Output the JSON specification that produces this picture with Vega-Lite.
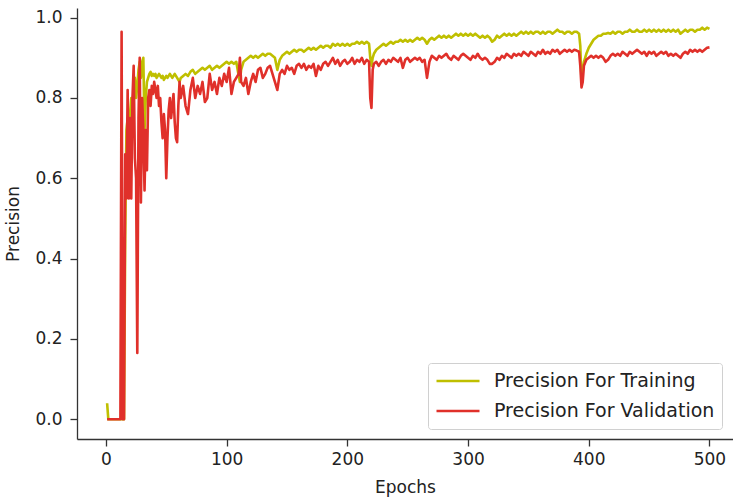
{
  "$schema": "https://vega.github.io/schema/vega-lite/v6.json",
  "autosize": {"type": "none"},
  "padding": {"left": 77, "top": 8, "right": 0, "bottom": 62},
  "width": 656,
  "height": 431,
  "background": "white",
  "config": {
    "view": {"stroke": null},
    "font": "DejaVu Sans",
    "axis": {"grid": false, "domainColor": "#333", "tickColor": "#333", "labelColor": "#222", "titleColor": "#222", "labelFontSize": 17, "titleFontSize": 17, "titleFontWeight": "normal", "tickSize": 7, "domainWidth": 1.3, "tickWidth": 1.3}
  },
  "datasets": {
    "prec": [
      {"e":1,"t":0.04,"v":0},{"e":2,"t":0,"v":0},{"e":3,"t":0,"v":0},{"e":4,"t":0,"v":0},{"e":5,"t":0,"v":0},{"e":6,"t":0,"v":0},{"e":7,"t":0,"v":0},{"e":8,"t":0,"v":0},{"e":9,"t":0,"v":0},{"e":10,"t":0,"v":0},
      {"e":11,"t":0,"v":0},{"e":12,"t":0,"v":0},{"e":13,"t":0,"v":0.965},{"e":14,"t":0,"v":0},{"e":15,"t":0,"v":0},{"e":16,"t":0.45,"v":0.66},{"e":17,"t":0.72,"v":0.55},{"e":18,"t":0.75,"v":0.82},{"e":19,"t":0.74,"v":0.55},{"e":20,"t":0.76,"v":0.75},
      {"e":21,"t":0.8,"v":0.55},{"e":22,"t":0.78,"v":0.8},{"e":23,"t":0.82,"v":0.88},{"e":24,"t":0.85,"v":0.65},{"e":25,"t":0.8,"v":0.6},{"e":26,"t":0.83,"v":0.165},{"e":27,"t":0.87,"v":0.75},{"e":28,"t":0.89,"v":0.9},{"e":29,"t":0.85,"v":0.54},{"e":30,"t":0.89,"v":0.8},
      {"e":31,"t":0.9,"v":0.72},{"e":32,"t":0.72,"v":0.57},{"e":33,"t":0.8,"v":0.72},{"e":34,"t":0.84,"v":0.62},{"e":35,"t":0.85,"v":0.8},{"e":36,"t":0.86,"v":0.82},{"e":37,"t":0.865,"v":0.78},{"e":38,"t":0.855,"v":0.83},{"e":39,"t":0.86,"v":0.81},{"e":40,"t":0.855,"v":0.84},
      {"e":41,"t":0.86,"v":0.82},{"e":42,"t":0.85,"v":0.8},{"e":43,"t":0.855,"v":0.83},{"e":44,"t":0.86,"v":0.78},{"e":45,"t":0.855,"v":0.8},{"e":46,"t":0.85,"v":0.74},{"e":47,"t":0.855,"v":0.7},{"e":48,"t":0.845,"v":0.76},{"e":49,"t":0.85,"v":0.72},{"e":50,"t":0.855,"v":0.6},
      {"e":51,"t":0.85,"v":0.7},{"e":52,"t":0.855,"v":0.77},{"e":53,"t":0.86,"v":0.8},{"e":54,"t":0.855,"v":0.75},{"e":55,"t":0.85,"v":0.78},{"e":56,"t":0.855,"v":0.81},{"e":57,"t":0.86,"v":0.74},{"e":58,"t":0.855,"v":0.7},{"e":59,"t":0.85,"v":0.69},{"e":60,"t":0.845,"v":0.78},
      {"e":61,"t":0.84,"v":0.84},{"e":62,"t":0.85,"v":0.8},{"e":64,"t":0.855,"v":0.83},{"e":66,"t":0.86,"v":0.78},{"e":68,"t":0.855,"v":0.76},{"e":70,"t":0.865,"v":0.82},{"e":72,"t":0.87,"v":0.85},{"e":74,"t":0.86,"v":0.8},{"e":76,"t":0.865,"v":0.83},{"e":78,"t":0.87,"v":0.81},
      {"e":80,"t":0.875,"v":0.84},{"e":82,"t":0.87,"v":0.79},{"e":84,"t":0.875,"v":0.8},{"e":86,"t":0.88,"v":0.86},{"e":88,"t":0.87,"v":0.82},{"e":90,"t":0.875,"v":0.84},{"e":92,"t":0.88,"v":0.81},{"e":94,"t":0.875,"v":0.85},{"e":96,"t":0.88,"v":0.83},{"e":98,"t":0.885,"v":0.86},
      {"e":100,"t":0.89,"v":0.84},{"e":102,"t":0.885,"v":0.875},{"e":104,"t":0.89,"v":0.81},{"e":106,"t":0.885,"v":0.84},{"e":108,"t":0.89,"v":0.85},{"e":110,"t":0.855,"v":0.86},{"e":111,"t":0.84,"v":0.9},{"e":112,"t":0.87,"v":0.84},{"e":114,"t":0.89,"v":0.83},{"e":116,"t":0.895,"v":0.85},
      {"e":118,"t":0.9,"v":0.81},{"e":120,"t":0.905,"v":0.84},{"e":122,"t":0.9,"v":0.86},{"e":124,"t":0.905,"v":0.84},{"e":126,"t":0.9,"v":0.87},{"e":128,"t":0.905,"v":0.875},{"e":130,"t":0.91,"v":0.85},{"e":132,"t":0.905,"v":0.86},{"e":134,"t":0.91,"v":0.875},{"e":136,"t":0.91,"v":0.88},
      {"e":138,"t":0.905,"v":0.86},{"e":140,"t":0.9,"v":0.84},{"e":142,"t":0.87,"v":0.82},{"e":144,"t":0.895,"v":0.86},{"e":146,"t":0.905,"v":0.87},{"e":148,"t":0.91,"v":0.86},{"e":150,"t":0.915,"v":0.88},{"e":152,"t":0.91,"v":0.87},{"e":154,"t":0.915,"v":0.875},{"e":156,"t":0.92,"v":0.86},
      {"e":158,"t":0.915,"v":0.88},{"e":160,"t":0.92,"v":0.885},{"e":162,"t":0.92,"v":0.875},{"e":164,"t":0.915,"v":0.885},{"e":166,"t":0.92,"v":0.87},{"e":168,"t":0.925,"v":0.88},{"e":170,"t":0.92,"v":0.875},{"e":172,"t":0.925,"v":0.885},{"e":174,"t":0.92,"v":0.855},{"e":176,"t":0.925,"v":0.88},
      {"e":178,"t":0.93,"v":0.87},{"e":180,"t":0.925,"v":0.885},{"e":182,"t":0.93,"v":0.89},{"e":184,"t":0.93,"v":0.88},{"e":186,"t":0.925,"v":0.89},{"e":188,"t":0.935,"v":0.9},{"e":190,"t":0.93,"v":0.885},{"e":192,"t":0.935,"v":0.895},{"e":194,"t":0.93,"v":0.88},{"e":196,"t":0.935,"v":0.89},
      {"e":198,"t":0.93,"v":0.895},{"e":200,"t":0.935,"v":0.885},{"e":202,"t":0.93,"v":0.89},{"e":204,"t":0.935,"v":0.9},{"e":206,"t":0.935,"v":0.885},{"e":208,"t":0.94,"v":0.895},{"e":210,"t":0.935,"v":0.89},{"e":212,"t":0.94,"v":0.9},{"e":214,"t":0.935,"v":0.885},{"e":216,"t":0.94,"v":0.895},
      {"e":218,"t":0.935,"v":0.89},{"e":219,"t":0.9,"v":0.8},{"e":220,"t":0.88,"v":0.775},{"e":221,"t":0.9,"v":0.87},{"e":222,"t":0.91,"v":0.885},{"e":224,"t":0.92,"v":0.89},{"e":226,"t":0.925,"v":0.88},{"e":228,"t":0.93,"v":0.89},{"e":230,"t":0.935,"v":0.895},{"e":232,"t":0.93,"v":0.885},
      {"e":234,"t":0.935,"v":0.895},{"e":236,"t":0.94,"v":0.89},{"e":238,"t":0.935,"v":0.9},{"e":240,"t":0.94,"v":0.895},{"e":242,"t":0.94,"v":0.89},{"e":244,"t":0.945,"v":0.9},{"e":246,"t":0.94,"v":0.875},{"e":248,"t":0.945,"v":0.895},{"e":250,"t":0.94,"v":0.9},{"e":252,"t":0.945,"v":0.89},
      {"e":254,"t":0.94,"v":0.895},{"e":256,"t":0.945,"v":0.9},{"e":258,"t":0.95,"v":0.895},{"e":260,"t":0.945,"v":0.9},{"e":262,"t":0.95,"v":0.89},{"e":264,"t":0.945,"v":0.895},{"e":266,"t":0.935,"v":0.85},{"e":268,"t":0.945,"v":0.89},{"e":270,"t":0.95,"v":0.905},{"e":272,"t":0.945,"v":0.9},
      {"e":274,"t":0.95,"v":0.895},{"e":276,"t":0.955,"v":0.905},{"e":278,"t":0.95,"v":0.9},{"e":280,"t":0.955,"v":0.905},{"e":282,"t":0.95,"v":0.91},{"e":284,"t":0.955,"v":0.9},{"e":286,"t":0.95,"v":0.895},{"e":288,"t":0.955,"v":0.905},{"e":290,"t":0.96,"v":0.9},{"e":292,"t":0.955,"v":0.895},
      {"e":294,"t":0.96,"v":0.905},{"e":296,"t":0.955,"v":0.91},{"e":298,"t":0.96,"v":0.905},{"e":300,"t":0.955,"v":0.9},{"e":302,"t":0.96,"v":0.895},{"e":304,"t":0.955,"v":0.905},{"e":306,"t":0.96,"v":0.9},{"e":308,"t":0.955,"v":0.91},{"e":310,"t":0.95,"v":0.9},{"e":312,"t":0.955,"v":0.895},
      {"e":314,"t":0.95,"v":0.9},{"e":316,"t":0.955,"v":0.895},{"e":318,"t":0.95,"v":0.885},{"e":320,"t":0.94,"v":0.885},{"e":322,"t":0.945,"v":0.89},{"e":324,"t":0.955,"v":0.9},{"e":326,"t":0.95,"v":0.895},{"e":328,"t":0.955,"v":0.905},{"e":330,"t":0.96,"v":0.9},{"e":332,"t":0.955,"v":0.91},
      {"e":334,"t":0.96,"v":0.905},{"e":336,"t":0.955,"v":0.9},{"e":338,"t":0.96,"v":0.91},{"e":340,"t":0.955,"v":0.905},{"e":342,"t":0.96,"v":0.91},{"e":344,"t":0.965,"v":0.905},{"e":346,"t":0.96,"v":0.915},{"e":348,"t":0.965,"v":0.91},{"e":350,"t":0.96,"v":0.905},{"e":352,"t":0.965,"v":0.915},
      {"e":354,"t":0.96,"v":0.91},{"e":356,"t":0.965,"v":0.905},{"e":358,"t":0.965,"v":0.915},{"e":360,"t":0.96,"v":0.91},{"e":362,"t":0.965,"v":0.92},{"e":364,"t":0.96,"v":0.91},{"e":366,"t":0.965,"v":0.915},{"e":368,"t":0.965,"v":0.91},{"e":370,"t":0.96,"v":0.92},{"e":372,"t":0.965,"v":0.915},
      {"e":374,"t":0.97,"v":0.92},{"e":376,"t":0.965,"v":0.91},{"e":378,"t":0.965,"v":0.915},{"e":380,"t":0.96,"v":0.92},{"e":382,"t":0.965,"v":0.915},{"e":384,"t":0.965,"v":0.92},{"e":386,"t":0.96,"v":0.915},{"e":388,"t":0.965,"v":0.92},{"e":390,"t":0.965,"v":0.918},{"e":392,"t":0.96,"v":0.915},
      {"e":393,"t":0.93,"v":0.88},{"e":394,"t":0.84,"v":0.826},{"e":395,"t":0.87,"v":0.84},{"e":396,"t":0.89,"v":0.88},{"e":398,"t":0.91,"v":0.895},{"e":400,"t":0.925,"v":0.9},{"e":402,"t":0.935,"v":0.905},{"e":404,"t":0.945,"v":0.9},{"e":406,"t":0.95,"v":0.905},{"e":408,"t":0.955,"v":0.9},
      {"e":410,"t":0.955,"v":0.905},{"e":412,"t":0.96,"v":0.9},{"e":414,"t":0.96,"v":0.89},{"e":416,"t":0.962,"v":0.895},{"e":418,"t":0.96,"v":0.905},{"e":420,"t":0.965,"v":0.91},{"e":422,"t":0.96,"v":0.905},{"e":424,"t":0.965,"v":0.91},{"e":426,"t":0.965,"v":0.905},{"e":428,"t":0.96,"v":0.915},
      {"e":430,"t":0.965,"v":0.91},{"e":432,"t":0.965,"v":0.905},{"e":434,"t":0.97,"v":0.915},{"e":436,"t":0.965,"v":0.91},{"e":438,"t":0.965,"v":0.915},{"e":440,"t":0.97,"v":0.92},{"e":442,"t":0.965,"v":0.915},{"e":444,"t":0.965,"v":0.91},{"e":446,"t":0.97,"v":0.915},{"e":448,"t":0.965,"v":0.905},
      {"e":450,"t":0.97,"v":0.915},{"e":452,"t":0.965,"v":0.91},{"e":454,"t":0.97,"v":0.915},{"e":456,"t":0.965,"v":0.905},{"e":458,"t":0.97,"v":0.91},{"e":460,"t":0.965,"v":0.915},{"e":462,"t":0.97,"v":0.91},{"e":464,"t":0.965,"v":0.915},{"e":466,"t":0.97,"v":0.905},{"e":468,"t":0.965,"v":0.91},
      {"e":470,"t":0.97,"v":0.905},{"e":472,"t":0.965,"v":0.91},{"e":474,"t":0.97,"v":0.905},{"e":476,"t":0.96,"v":0.9},{"e":478,"t":0.965,"v":0.91},{"e":480,"t":0.97,"v":0.915},{"e":482,"t":0.965,"v":0.91},{"e":484,"t":0.97,"v":0.92},{"e":486,"t":0.97,"v":0.915},{"e":488,"t":0.965,"v":0.92},
      {"e":490,"t":0.97,"v":0.915},{"e":492,"t":0.97,"v":0.92},{"e":494,"t":0.975,"v":0.915},{"e":496,"t":0.97,"v":0.92},{"e":498,"t":0.975,"v":0.925},{"e":500,"t":0.972,"v":0.926}
    ]
  },
  "layer": [
    {
      "data": {"name": "prec"},
      "transform": [{"fold": ["t", "v"], "as": ["series", "value"]}],
      "mark": {"type": "line", "strokeWidth": 2.6, "strokeJoin": "round"},
      "encoding": {
        "x": {"field": "e", "type": "quantitative", "title": "Epochs",
              "scale": {"domain": [-23.95, 519.5], "nice": false, "zero": false},
              "axis": {"values": [0, 100, 200, 300, 400, 500], "labelPadding": 5, "titlePadding": 12}},
        "y": {"field": "value", "type": "quantitative", "title": "Precision",
              "scale": {"domain": [-0.049, 1.024], "nice": false, "zero": false},
              "axis": {"values": [0, 0.2, 0.4, 0.6, 0.8, 1.0], "format": ".1f", "labelPadding": 8, "titlePadding": 12}},
        "color": {"field": "series", "type": "nominal",
                  "scale": {"domain": ["t", "v"], "range": ["#bfbf00", "#e0302a"]},
                  "legend": {"title": null, "orient": "none", "legendX": 351, "legendY": 355,
                             "labelExpr": "datum.label == 't' ? 'Precision For Training' : 'Precision For Validation'",
                             "symbolType": "stroke", "symbolSize": 1849, "symbolStrokeWidth": 2.6,
                             "labelFontSize": 19, "labelColor": "#222", "labelOffset": 13, "labelLimit": 400,
                             "clipHeight": 22, "rowPadding": 8, "padding": 7,
                             "strokeColor": "#d0d0d0", "fillColor": "white", "cornerRadius": 3}}
      }
    },
    {
      "mark": {"type": "rule", "color": "#333", "strokeWidth": 1.3},
      "encoding": {"y": {"datum": 1.024}}
    }
  ]
}
